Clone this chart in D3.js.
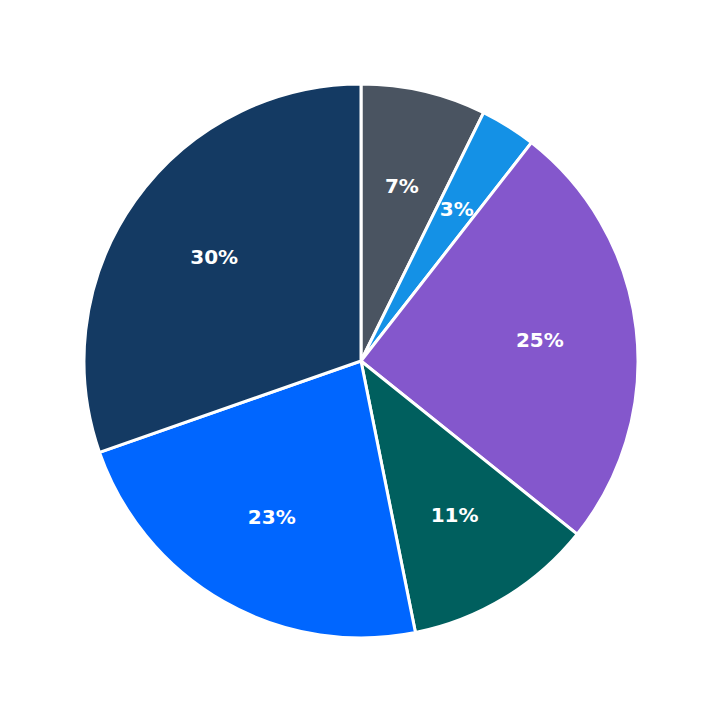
<!DOCTYPE html>
<html><head><meta charset="utf-8">
<script src="https://cdn.jsdelivr.net/npm/d3@7"></script>
<style>body{margin:0;background:#fff}</style></head>
<body><svg id="c" width="723" height="723"></svg>
<script>
const categories = ["A","B","C","D","E","F"];
const values = [7.3, 3.25, 25.2, 11.1, 22.8, 30.35];
const labels = ["7%","3%","25%","11%","23%","30%"];
const colors = ["#4a5461","#1491e6","#8457cc","#005f5e","#0066ff","#143a63"];
const svg = d3.select("#c");
const g = svg.append("g").attr("transform","translate(361,361)");
const pie = d3.pie().sort(null).value(d=>d)(values);
const r = 277;
const arc = d3.arc().innerRadius(0).outerRadius(r);
const la = d3.arc().innerRadius(r*0.65).outerRadius(r*0.65);
g.selectAll("path").data(pie).join("path").attr("d",arc)
 .attr("fill",(d,i)=>colors[i]).attr("stroke","#fff").attr("stroke-width",3);
g.selectAll("text").data(pie).join("text")
 .attr("transform",d=>`translate(${la.centroid(d)})`)
 .attr("text-anchor","middle").attr("dy","0.35em")
 .attr("fill","#fff").attr("font-family","DejaVu Sans").attr("font-weight","bold").attr("font-size",20)
 .text((d,i)=>labels[i]);
</script></body></html>
